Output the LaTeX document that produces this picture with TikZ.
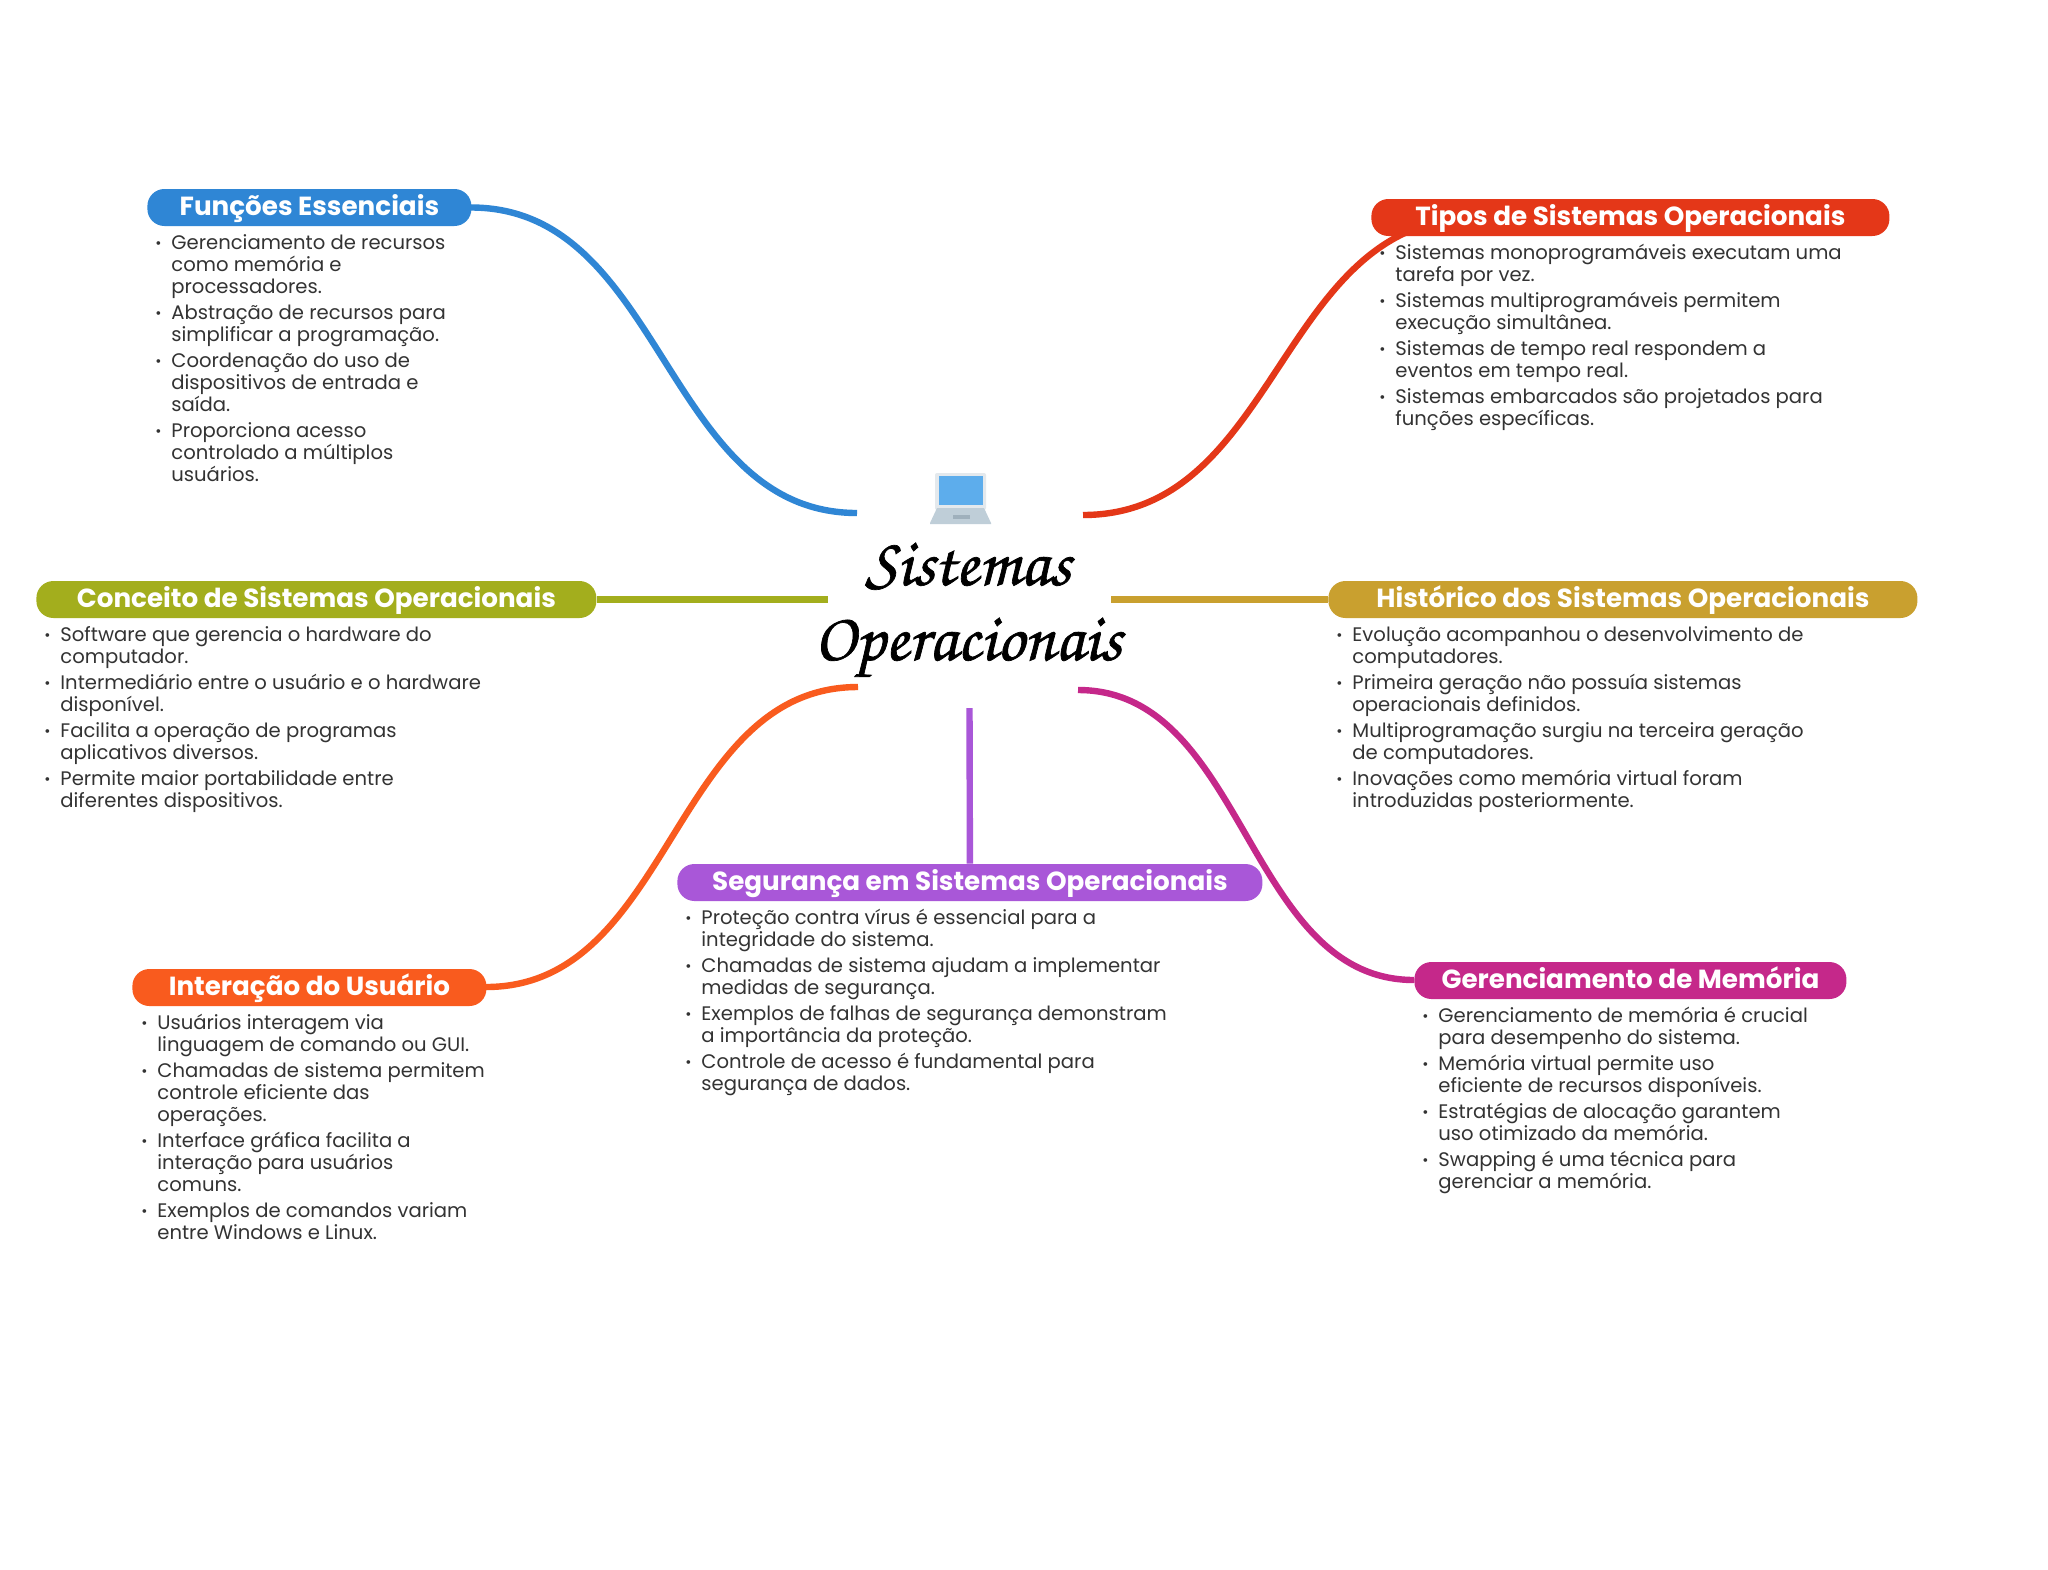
\documentclass[tikz,border=0pt]{standalone}
\usepackage{fontspec}
\setmainfont{Poppins}
\newfontfamily\titlefont{TeX Gyre Chorus}[AutoFakeBold=1]
\definecolor{cblue}{HTML}{2F86D5}
\definecolor{cred}{HTML}{E43718}
\definecolor{colive}{HTML}{A3AE1D}
\definecolor{cgold}{HTML}{C9A02F}
\definecolor{cpurple}{HTML}{A957D8}
\definecolor{corange}{HTML}{F95B1E}
\definecolor{cmag}{HTML}{C5288A}
\definecolor{bodyc}{HTML}{333333}
\definecolor{lframe}{HTML}{E4E9ED}
\definecolor{lscreen}{HTML}{5DADEC}
\definecolor{lbase}{HTML}{BFCED8}
\definecolor{lpad}{HTML}{9FB0BC}
\newcommand{\itm}[1]{\llap{\raisebox{0.5pt}{\fontsize{7.5}{11}\selectfont •}\hspace{4.9pt}}#1}
\newcommand{\gap}{\\[2pt]}
\newcommand{\topln}{\rule{0pt}{7.8pt}}
\tikzset{
 x=0.5pt,y=-0.5pt,
 pill/.style={fill=#1,text=white,rounded corners=8.5pt,inner sep=0pt,minimum height=18.5pt,text height=11.3pt,text depth=3.2pt,font=\fontsize{13.1}{15}\selectfont\bfseries,anchor=west},
 bodytxt/.style={anchor=north west,inner sep=0pt,align=left,text=bodyc,font=\fontsize{9.8}{11}\selectfont},
 link/.style={draw=#1,line width=3.2pt},
 title/.style={inner sep=0pt,font=\titlefont\bfseries\fontsize{34}{40}\selectfont,anchor=base},
}
\begin{document}
\begin{tikzpicture}
\useasboundingbox (0,0) rectangle (2048,1569);
\fill[white] (0,0) rectangle (2048,1569);
\node[title] (t1) at (968,585) {Sistemas};
\node[title] (t2) at (968,660) {Operacionais};
% laptop
\fill[lframe,rounded corners=1pt] (935,473) rectangle (986,510);
\fill[lscreen] (939,476) rectangle (983,505);
\fill[lbase] (937,508) -- (984,508) -- (991,523) -- (991,524) -- (930,524) -- (930,523) -- cycle;
\fill[lpad] (953,515) rectangle (970,519);
% anchors on the centre
\coordinate (cA) at (857,513);
\coordinate (cB) at (1083,515);
\coordinate (cC) at (828,599.5);
\coordinate (cD) at (1111,599.5);
\coordinate (cE) at (858,687);
\coordinate (cF) at (969.5,708);
\coordinate (cG) at (1078,690);
\coordinate (tipoEnd) at (1475,218);
\coordinate (fnE) at (471,207.5);
\coordinate (inE) at (486,987);
\coordinate (geW) at (1414,980);
\draw[link=cblue] (fnE) .. controls (664,207.5) and (664,513) .. (cA);
\draw[link=cred] (cB) .. controls (1279,515) and (1279,218) .. (tipoEnd);
\draw[link=corange] (inE) .. controls (672,987) and (672,687) .. (cE);
\draw[link=cmag] (cG) .. controls (1246,690) and (1246,980) .. (geW);
% pills
\node[pill=cblue,minimum width=162pt] (fn) at (147,207.5) {Funções Essenciais};
\node[pill=cred,minimum width=259pt] (ti) at (1371,217.5) {Tipos de Sistemas Operacionais};
\node[pill=colive,minimum width=280pt] (co) at (36,599.5) {Conceito de Sistemas Operacionais};
\node[pill=cgold,minimum width=294.5pt] (hi) at (1328,599.5) {Histórico dos Sistemas Operacionais};
\node[pill=cpurple,minimum width=292.5pt] (se) at (677,882.5) {Segurança em Sistemas Operacionais};
\node[pill=corange,minimum width=177pt] (in) at (132,987.5) {Interação do Usuário};
\node[pill=cmag,minimum width=216pt] (ge) at (1414,980.5) {Gerenciamento de Memória};
\draw[link=colive] (co.east) -- (cC);
\draw[link=cgold] (cD) -- (hi.west);
\draw[link=cpurple] (cF) -- (se.north);
% texts
\node[bodytxt] (fnb) at (171,233) {\itm{\topln Gerenciamento de recursos}\\como memória e\\processadores.\gap
\itm{Abstração de recursos para}\\simplificar a programação.\gap
\itm{Coordenação do uso de}\\dispositivos de entrada e\\saída.\gap
\itm{Proporciona acesso}\\controlado a múltiplos\\usuários.};
\node[bodytxt] (tib) at (1395,243) {\itm{\topln Sistemas monoprogramáveis executam uma}\\tarefa por vez.\gap
\itm{Sistemas multiprogramáveis permitem}\\execução simultânea.\gap
\itm{Sistemas de tempo real respondem a}\\eventos em tempo real.\gap
\itm{Sistemas embarcados são projetados para}\\funções específicas.};
\node[bodytxt] (cob) at (60,625) {\itm{\topln Software que gerencia o hardware do}\\computador.\gap
\itm{Intermediário entre o usuário e o hardware}\\disponível.\gap
\itm{Facilita a operação de programas}\\aplicativos diversos.\gap
\itm{Permite maior portabilidade entre}\\diferentes dispositivos.};
\node[bodytxt] (hib) at (1352,625) {\itm{\topln Evolução acompanhou o desenvolvimento de}\\computadores.\gap
\itm{Primeira geração não possuía sistemas}\\operacionais definidos.\gap
\itm{Multiprogramação surgiu na terceira geração}\\de computadores.\gap
\itm{Inovações como memória virtual foram}\\introduzidas posteriormente.};
\node[bodytxt] (seb) at (701,908) {\itm{\topln Proteção contra vírus é essencial para a}\\integridade do sistema.\gap
\itm{Chamadas de sistema ajudam a implementar}\\medidas de segurança.\gap
\itm{Exemplos de falhas de segurança demonstram}\\a importância da proteção.\gap
\itm{Controle de acesso é fundamental para}\\segurança de dados.};
\node[bodytxt] (inb) at (157,1013) {\itm{\topln Usuários interagem via}\\linguagem de comando ou GUI.\gap
\itm{Chamadas de sistema permitem}\\controle eficiente das\\operações.\gap
\itm{Interface gráfica facilita a}\\interação para usuários\\comuns.\gap
\itm{Exemplos de comandos variam}\\entre Windows e Linux.};
\node[bodytxt] (geb) at (1438,1006) {\itm{\topln Gerenciamento de memória é crucial}\\para desempenho do sistema.\gap
\itm{Memória virtual permite uso}\\eficiente de recursos disponíveis.\gap
\itm{Estratégias de alocação garantem}\\uso otimizado da memória.\gap
\itm{Swapping é uma técnica para}\\gerenciar a memória.};
\end{tikzpicture}
\end{document}
